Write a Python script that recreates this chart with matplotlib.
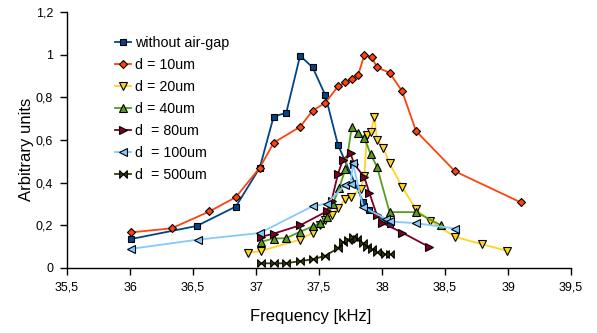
import matplotlib
matplotlib.use("Agg")
from matplotlib import pyplot as plt
from matplotlib.path import Path
from matplotlib.ticker import FuncFormatter

# without air-gap
f_none = [36.01, 36.53, 36.84, 37.03, 37.14, 37.24, 37.35, 37.45, 37.55, 37.65, 37.85, 37.9, 38.06]
a_none = [0.136, 0.197, 0.288, 0.47, 0.71, 0.727, 0.995, 0.94, 0.81, 0.578, 0.31, 0.27, 0.205]

f_10 = [36.01, 36.33, 36.63, 36.84, 37.03, 37.14, 37.35, 37.45, 37.55, 37.65, 37.71, 37.76,
        37.81, 37.86, 37.92, 37.96, 38.06, 38.16, 38.27, 38.58, 39.1]
a_10 = [0.167, 0.186, 0.265, 0.332, 0.47, 0.587, 0.662, 0.738, 0.774, 0.851, 0.871, 0.885,
        0.904, 0.998, 0.988, 0.94, 0.916, 0.828, 0.642, 0.453, 0.308]

f_20 = [36.94, 37.04, 37.35, 37.45, 37.51, 37.55, 37.6, 37.65, 37.71, 37.75, 37.83, 37.86,
        37.88, 37.91, 37.94, 37.96, 38.01, 38.06, 38.16, 38.27, 38.38, 38.58, 38.79, 38.99]
a_20 = [0.071, 0.08, 0.133, 0.166, 0.203, 0.223, 0.25, 0.28, 0.324, 0.335, 0.369, 0.43,
        0.625, 0.638, 0.707, 0.6, 0.564, 0.49, 0.38, 0.275, 0.222, 0.146, 0.112, 0.081]

f_40 = [37.04, 37.14, 37.24, 37.35, 37.45, 37.51, 37.56, 37.61, 37.66, 37.71, 37.76, 37.81,
        37.86, 37.91, 37.96, 38.06, 38.27, 38.47]
a_40 = [0.123, 0.138, 0.14, 0.17, 0.195, 0.21, 0.24, 0.3, 0.375, 0.464, 0.662, 0.631,
        0.61, 0.533, 0.475, 0.262, 0.262, 0.2]

f_80 = [37.04, 37.14, 37.35, 37.56, 37.6, 37.65, 37.69, 37.75, 37.78, 37.86, 37.9, 37.96,
        38.0, 38.16, 38.37]
a_80 = [0.146, 0.161, 0.2, 0.265, 0.316, 0.44, 0.508, 0.537, 0.487, 0.425, 0.352, 0.247,
        0.212, 0.166, 0.1]

f_100 = [36.01, 36.54, 37.03, 37.45, 37.56, 37.71, 37.75, 37.77, 37.85, 38.03, 38.06, 38.27, 38.58]
a_100 = [0.09, 0.133, 0.164, 0.29, 0.302, 0.39, 0.394, 0.49, 0.285, 0.231, 0.218, 0.21, 0.185]

f_500 = [37.04, 37.14, 37.24, 37.35, 37.45, 37.55, 37.65, 37.69, 37.73, 37.77, 37.8, 37.85,
         37.88, 37.92, 37.96, 38.02, 38.06]
a_500 = [0.022, 0.022, 0.022, 0.033, 0.04, 0.058, 0.092, 0.12, 0.133, 0.146, 0.135, 0.115,
         0.1, 0.087, 0.073, 0.066, 0.066]

labels = ["without air-gap", "d = 10um", "d = 20um", "d = 40um",
          "d  = 80um", "d  = 100um", "d  = 500um"]
colors = ["#004586", "#ff420e", "#ffd320", "#579d1c", "#7e0021", "#83caff", "#314004"]

# bowtie marker (two triangles tip to tip)
bowtie = Path([(-1, -1), (-1, 1), (1, -1), (1, 1), (-1, -1)],
              [Path.MOVETO, Path.LINETO, Path.LINETO, Path.LINETO, Path.CLOSEPOLY])
markers = ["s", "D", "v", "^", ">", "<", bowtie]
sizes = [4.5, 4.5, 6, 6, 6, 6, 5.5]

plt.rcParams["font.family"] = ["Liberation Sans", "DejaVu Sans"]

fig = plt.figure(figsize=(5.97, 3.33), dpi=100)
ax = fig.add_axes([67 / 597, 65 / 333, (571 - 67) / 597, (268 - 12) / 333])

series = [(f_none, a_none), (f_10, a_10), (f_20, a_20), (f_40, a_40),
          (f_80, a_80), (f_100, a_100), (f_500, a_500)]
for (f, a), lab, c, m, ms in zip(series, labels, colors, markers, sizes):
    ax.plot(f, a, color=c, lw=1.3, marker=m, markersize=ms, markerfacecolor=c,
            markeredgecolor="black", markeredgewidth=0.8, label=lab)

ax.set_xlim(35.5, 39.5)
ax.set_ylim(0, 1.2)
ax.set_xticks([35.5 + 0.5 * i for i in range(9)])
ax.set_yticks([0.2 * i for i in range(7)])
comma = FuncFormatter(lambda v, p: ("%g" % round(v, 2)).replace(".", ","))
ax.xaxis.set_major_formatter(comma)
ax.yaxis.set_major_formatter(comma)
ax.tick_params(direction="out", length=5, width=1, labelsize=9, pad=5)

for s in ["top", "right"]:
    ax.spines[s].set_visible(False)
for s in ["left", "bottom"]:
    ax.spines[s].set_linewidth(1)

ax.set_xlabel("Frequency [kHz]", fontsize=12)
ax.set_ylabel("Arbitrary units", fontsize=12)
ax.xaxis.set_label_coords(0.483, -0.162)
ax.yaxis.set_label_coords(-0.066, 0.465)

ax.legend(loc="upper left", bbox_to_anchor=(115 / 597, 1 - 36 / 333),
          bbox_transform=fig.transFigure, frameon=False, fontsize=10.3,
          borderpad=0, borderaxespad=0, handlelength=1.1, handletextpad=0.3,
          labelspacing=0.56, markerscale=1.0)

fig.savefig("out.png", dpi=100)
